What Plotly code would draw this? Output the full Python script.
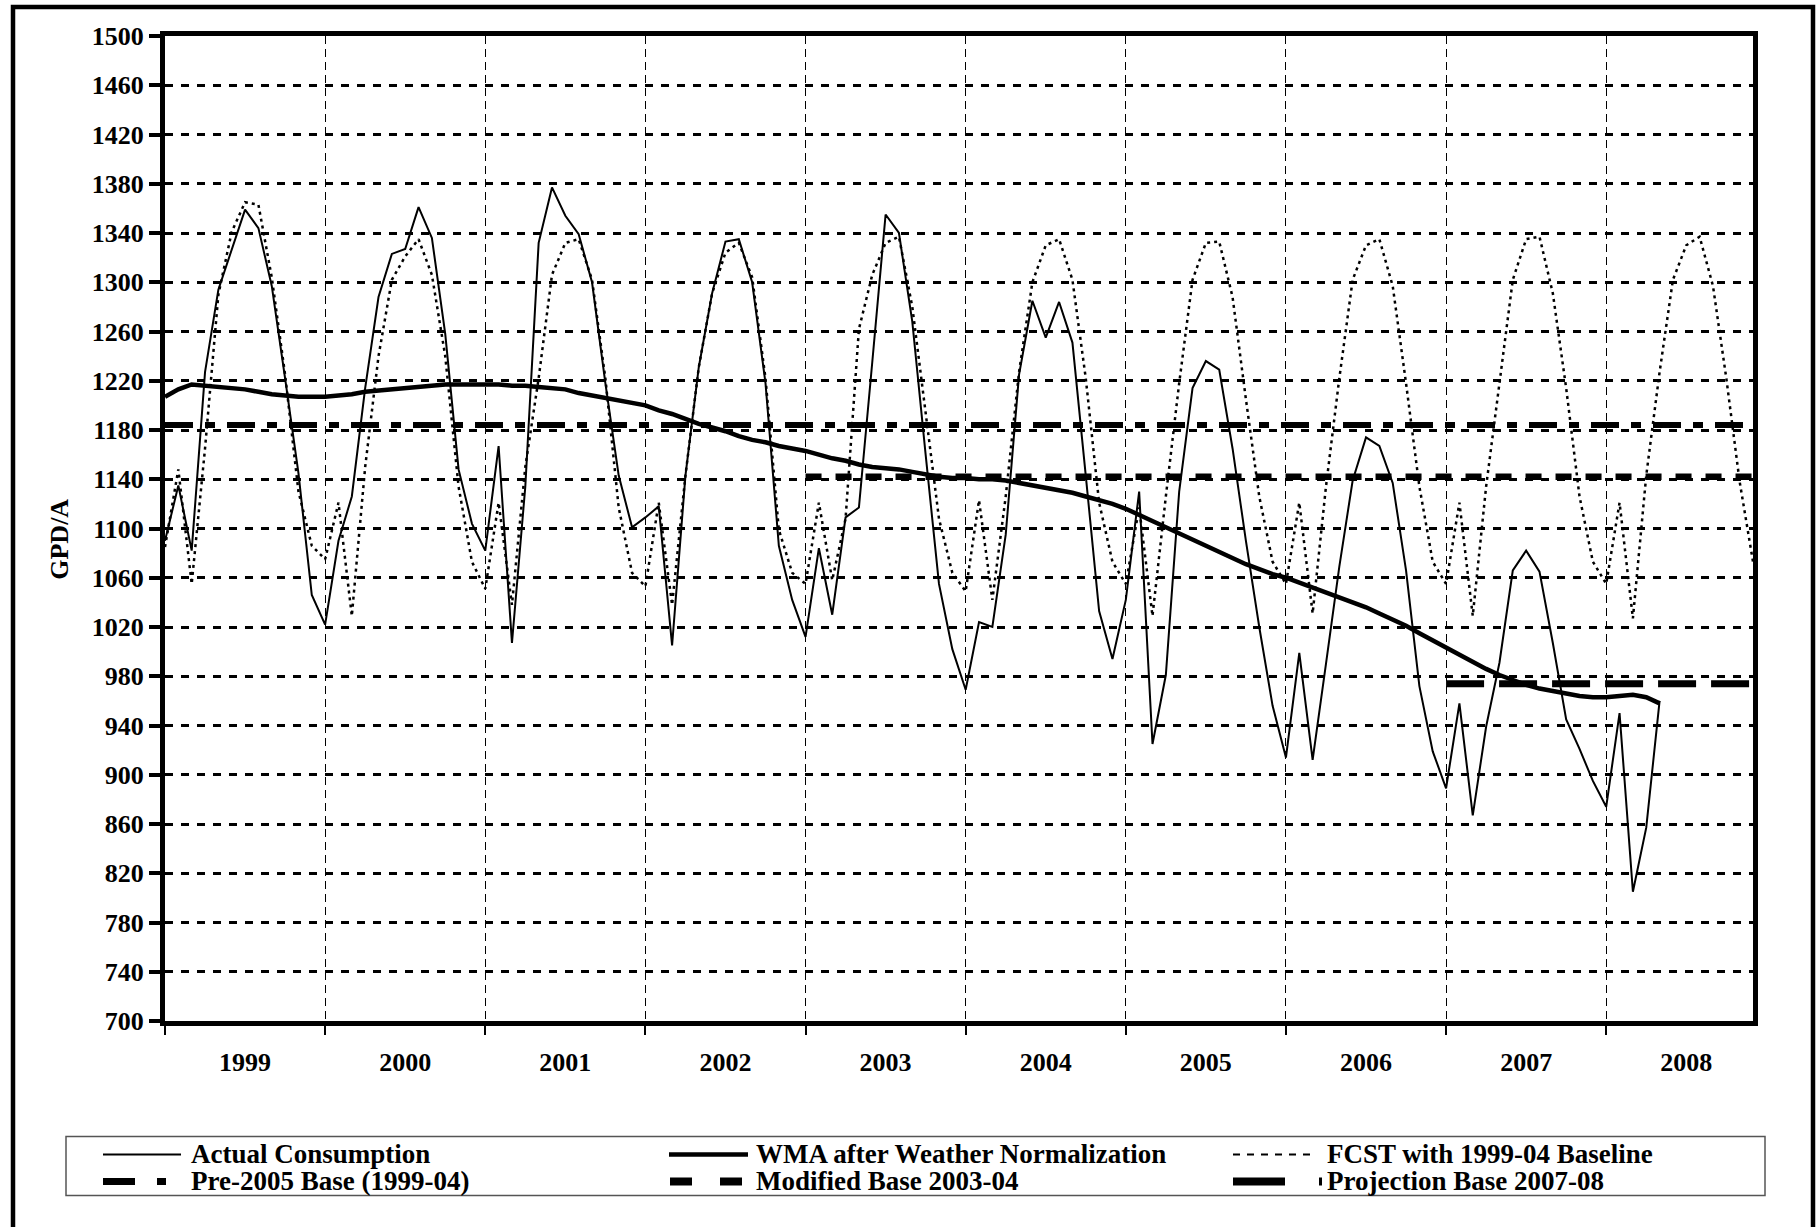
import plotly.graph_objects as go

# ---- data (monthly Jan 1999 - Dec 2008) ----
years = ["1999", "2000", "2001", "2002", "2003", "2004", "2005", "2006", "2007", "2008"]

actual = [
    1090, 1135, 1082, 1227, 1294, 1326, 1359, 1344, 1297, 1222, 1145, 1046,
    1022, 1090, 1126, 1214, 1288, 1323, 1327, 1361, 1336, 1258, 1148, 1104,
    1082, 1167, 1007, 1134, 1332, 1377, 1354, 1339, 1300, 1218, 1143, 1101,
    1109, 1118, 1005, 1143, 1231, 1291, 1333, 1335, 1300, 1218, 1086, 1042,
    1012, 1084, 1030, 1109, 1117, 1235, 1355, 1340, 1268, 1160, 1055, 1002,
    969, 1024, 1020, 1095, 1225, 1285, 1255, 1284, 1251, 1143, 1033, 994,
    1042, 1130, 925, 981, 1130, 1214, 1236, 1229, 1165, 1090, 1020, 956,
    914, 999, 912, 990, 1069, 1139, 1174, 1167, 1137, 1066, 972, 919,
    889, 958, 867, 939, 991, 1066, 1082, 1065, 1007, 945, 921, 895,
    874, 950, 805, 857, 960,
]

wma = [
    1207, 1213, 1217, 1216, 1215, 1214, 1213, 1211, 1209, 1208, 1207, 1207,
    1207, 1208, 1209, 1211, 1212, 1213, 1214, 1215, 1216, 1217, 1217, 1217,
    1217, 1217, 1216, 1216, 1215, 1214, 1213, 1210, 1208, 1206, 1204, 1202,
    1200, 1196, 1193, 1189, 1185, 1182, 1179, 1175, 1172, 1170, 1167, 1165,
    1163, 1160, 1157, 1155, 1152, 1150, 1149, 1148, 1146, 1144, 1142, 1141,
    1141, 1140, 1140, 1139, 1137, 1135, 1133, 1131, 1129, 1126, 1123, 1120,
    1116, 1111, 1106, 1101, 1096, 1091, 1086, 1081, 1076, 1071, 1067, 1063,
    1060, 1056, 1052, 1048, 1044, 1040, 1036, 1031, 1026, 1021, 1015, 1009,
    1003, 998, 992, 986, 981, 977, 973, 970, 968, 966, 964, 963,
    963, 964, 965, 963, 958,
]

fcst = [
    1085, 1148, 1055, 1165, 1290, 1341, 1365, 1363, 1304, 1225, 1130, 1086,
    1075, 1121, 1029, 1150, 1240, 1302, 1321, 1335, 1306, 1240, 1134, 1073,
    1051, 1121, 1038, 1150, 1222, 1306, 1332, 1335, 1302, 1222, 1117, 1064,
    1053, 1121, 1038, 1143, 1231, 1291, 1324, 1332, 1304, 1222, 1099, 1064,
    1055, 1121, 1058, 1108, 1262, 1306, 1332, 1337, 1280, 1192, 1108, 1064,
    1049, 1123, 1042, 1126, 1227, 1300, 1330, 1335, 1302, 1222, 1121, 1073,
    1055, 1117, 1029, 1126, 1218, 1302, 1332, 1333, 1288, 1205, 1126, 1073,
    1055, 1121, 1031, 1134, 1222, 1302, 1330, 1335, 1297, 1218, 1134, 1073,
    1055, 1121, 1029, 1134, 1218, 1302, 1335, 1337, 1291, 1214, 1126, 1073,
    1055, 1121, 1027, 1143, 1227, 1302, 1330, 1337, 1297, 1222, 1138, 1073,
]

pre2005_base = 1184
modified_base = 1142
projection_base = 974
# first / last month index each base line covers
pre2005_span = [0, 119]
modified_span = [48, 119]
projection_span = [96, 119]

months = list(range(len(fcst)))

# ---- page geometry (pixels) ----
W, H = 1820, 1227
L, R, T, B = 165, 67, 36, 205.5
FONT = "Liberation Serif, Times New Roman, serif"


def px2x(px):
    return (px - L) / (W - L - R)


def py2y(py):
    return (H - B - py) / (H - T - B)


fig = go.Figure()
fig.add_trace(go.Scatter(x=months[:len(actual)], y=actual, mode="lines",
                         name="Actual Consumption",
                         line=dict(color="black", width=2)))
fig.add_trace(go.Scatter(x=months[:len(wma)], y=wma, mode="lines",
                         name="WMA after Weather Normalization",
                         line=dict(color="black", width=4.5)))
fig.add_trace(go.Scatter(x=months, y=fcst, mode="lines",
                         name="FCST with 1999-04 Baseline",
                         line=dict(color="black", width=2.5, dash="3px,4px")))
fig.add_trace(go.Scatter(x=pre2005_span, y=[pre2005_base] * 2, mode="lines",
                         name="Pre-2005 Base (1999-04)",
                         line=dict(color="black", width=6, dash="28px,12px,10px,12px")))
fig.add_trace(go.Scatter(x=modified_span, y=[modified_base] * 2, mode="lines",
                         name="Modified Base 2003-04",
                         line=dict(color="black", width=6.5, dash="16px,14px")))
fig.add_trace(go.Scatter(x=projection_span, y=[projection_base] * 2, mode="lines",
                         name="Projection Base 2007-08",
                         line=dict(color="black", width=7, dash="38px,15px")))

tickfont = dict(family=FONT, size=26, color="black", weight="bold")
legfont = dict(family=FONT, size=27, color="black", weight="bold")

fig.update_xaxes(
    range=[0, 119],
    tickmode="array",
    tickvals=[6 + 12 * k for k in range(len(years))],
    ticktext=years,
    ticks="",
    ticklabelstandoff=14,
    showgrid=False,
    zeroline=False,
    showline=True, linewidth=5, linecolor="black", mirror=True,
    tickfont=tickfont,
    minor=dict(tickmode="array", tickvals=[12 * k for k in range(len(years))],
               ticks="outside", ticklen=9, tickwidth=1.5, tickcolor="black",
               showgrid=True, gridcolor="black", gridwidth=1.2, griddash="8px,5px"),
)
fig.update_yaxes(
    range=[700, 1500],
    tick0=700, dtick=40,
    ticks="outside", ticklen=11, tickwidth=4, tickcolor="black",
    showgrid=True, gridcolor="black", gridwidth=3, griddash="8px,8px",
    zeroline=False,
    showline=True, linewidth=5, linecolor="black", mirror=True,
    tickfont=tickfont,
)

shapes = [
    # outer frame of the chart
    dict(type="rect", xref="paper", yref="paper",
         x0=px2x(13), x1=px2x(1813), y0=py2y(1260), y1=py2y(7),
         line=dict(color="black", width=4.5), layer="above"),
    # legend box
    dict(type="rect", xref="paper", yref="paper",
         x0=px2x(66), x1=px2x(1765), y0=py2y(1196), y1=py2y(1137),
         line=dict(color="#555555", width=1.5)),
]

row1, row2 = 1155, 1182
legend_items = [
    # (x0, x1, y, width, dash, text x, text)
    (103, 181, row1, 2, "solid", 189, "Actual Consumption"),
    (669, 748, row1, 4.5, "solid", 754, "WMA after Weather Normalization"),
    (1233, 1317, row1, 2, "7px,7px", 1325, "FCST with 1999-04 Baseline"),
    (103, 166, row2, 7, "32px,22px,9px,100px", 189, "Pre-2005 Base (1999-04)"),
    (670, 742, row2, 8, "22px,28px", 754, "Modified Base 2003-04"),
    (1233, 1322, row2, 8, "52px,34px,3px,100px", 1325, "Projection Base 2007-08"),
]
annotations = []
for x0, x1, yy, lw, dash, tx, text in legend_items:
    shapes.append(dict(type="line", xref="paper", yref="paper",
                       x0=px2x(x0), x1=px2x(x1), y0=py2y(yy), y1=py2y(yy),
                       line=dict(color="black", width=lw, dash=dash)))
    annotations.append(dict(xref="paper", yref="paper", x=px2x(tx), y=py2y(yy),
                            xanchor="left", yanchor="middle", showarrow=False,
                            text=text, font=legfont))

annotations.append(dict(xref="paper", yref="paper", x=px2x(60), y=py2y(540),
                        xanchor="center", yanchor="middle", showarrow=False,
                        text="GPD/A", textangle=-90, font=tickfont))

fig.update_layout(
    width=W, height=H,
    margin=dict(l=L, r=R, t=T, b=B, pad=0),
    paper_bgcolor="white", plot_bgcolor="white",
    showlegend=False,
    shapes=shapes,
    annotations=annotations,
)

fig.write_html("out.html", config={"displayModeBar": False},
               post_script="document.body.style.margin='0';document.body.style.overflow='hidden';")
